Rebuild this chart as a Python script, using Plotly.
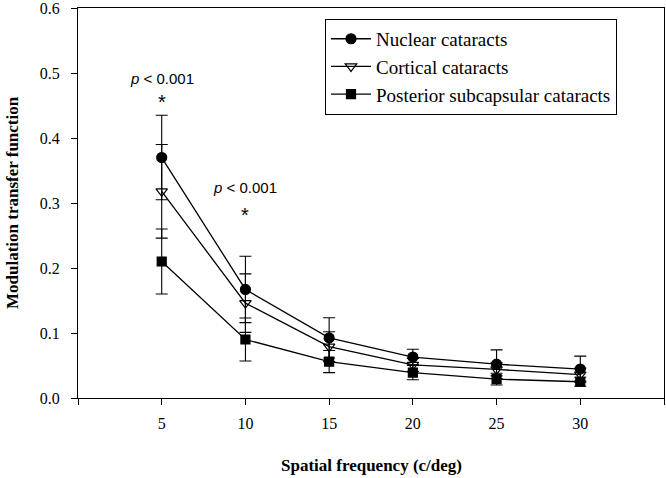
import plotly.graph_objects as go

freq = [5, 10, 15, 20, 25, 30]
nuclear = [0.370, 0.167, 0.0925, 0.063, 0.052, 0.0445]
nuclear_err = [0.065, 0.051, 0.031, 0.012, 0.022, 0.020]
cortical = [0.318, 0.146, 0.079, 0.051, 0.044, 0.036]
cortical_err = [0.072, 0.045, 0.023, 0.010, 0.010, 0.010]
psc = [0.210, 0.090, 0.056, 0.039, 0.029, 0.025]
psc_err = [0.050, 0.033, 0.017, 0.011, 0.009, 0.007]

x_ticks = [0, 5, 10, 15, 20, 25, 30, 35]
x_ticktext = ["", "5", "10", "15", "20", "25", "30", ""]
y_ticks = [0.0, 0.1, 0.2, 0.3, 0.4, 0.5, 0.6]
y_ticktext = ["0.0", "0.1", "0.2", "0.3", "0.4", "0.5", "0.6"]

sig_x = [5, 10]
sig_p_y = [0.492, 0.324]
sig_star_y = [0.455, 0.282]

x_title = "Spatial frequency (c/deg)"
y_title = "Modulation transfer function"

serif = "Liberation Serif, Times New Roman, serif"
sans = "Liberation Sans, Arial, sans-serif"

fig = go.Figure()

def add_series(name, y, err, symbol, size):
    fig.add_trace(go.Scatter(
        x=freq, y=y, name=name, mode="lines+markers",
        line=dict(color="black", width=1.3),
        marker=dict(symbol=symbol, size=size, color="black",
                    line=dict(color="black", width=1.2)),
        error_y=dict(type="data", array=err, visible=True,
                     color="black", thickness=1.1, width=6),
    ))

add_series("Nuclear cataracts", nuclear, nuclear_err, "circle", 10)
add_series("Cortical cataracts", cortical, cortical_err, "triangle-down-open", 10)
add_series("Posterior subcapsular cataracts", psc, psc_err, "square", 9)

for xv, py, sy in zip(sig_x, sig_p_y, sig_star_y):
    fig.add_annotation(x=xv, y=py, text="<i>p</i> < 0.001", showarrow=False,
                       font=dict(family=sans, size=15, color="black"))
    fig.add_annotation(x=xv, y=sy, text="*", showarrow=False,
                       font=dict(family=sans, size=20, color="black"))

fig.add_annotation(xref="paper", yref="paper", x=0.5, y=-0.174,
                   text="<b>" + x_title + "</b>", showarrow=False,
                   xanchor="center", yanchor="middle",
                   font=dict(family=serif, size=17, color="black"))
fig.add_annotation(xref="paper", yref="paper", x=-0.1126, y=0.5,
                   text="<b>" + y_title + "</b>", showarrow=False, textangle=-90,
                   xanchor="center", yanchor="middle",
                   font=dict(family=serif, size=17, color="black"))

fig.update_layout(
    width=666, height=478,
    margin=dict(l=78, r=2, t=8, b=80, autoexpand=False),
    plot_bgcolor="white", paper_bgcolor="white",
    showlegend=True,
    legend=dict(x=0.4215, y=0.972, xanchor="left", yanchor="top",
                bordercolor="black", borderwidth=1, bgcolor="white",
                font=dict(family=serif, size=19, color="black"),
                tracegroupgap=0, itemwidth=40),
    font=dict(family=serif, color="black"),
)

fig.update_xaxes(
    range=[0, 35.0001], tickvals=x_ticks, ticktext=x_ticktext,
    showline=True, linecolor="black", linewidth=1.3, mirror=True,
    ticks="outside", ticklen=6, tickcolor="black", tickwidth=1.3,
    showgrid=False, zeroline=False, automargin=False, ticklabelstandoff=5,
    ticklabeloverflow="allow",
    tickfont=dict(family=serif, size=16, color="black"),
)
fig.update_yaxes(
    range=[0, 0.6001], tickvals=y_ticks, ticktext=y_ticktext,
    showline=True, linecolor="black", linewidth=1.3, mirror=True,
    ticks="outside", ticklen=6, tickcolor="black", tickwidth=1.3,
    showgrid=False, zeroline=False, automargin=False, ticklabelstandoff=8,
    ticklabeloverflow="allow",
    tickfont=dict(family=serif, size=16, color="black"),
)

fig.write_html(
    "out.html",
    config={"displayModeBar": False},
    post_script="document.body.style.margin='0';document.body.style.overflow='hidden';",
)
